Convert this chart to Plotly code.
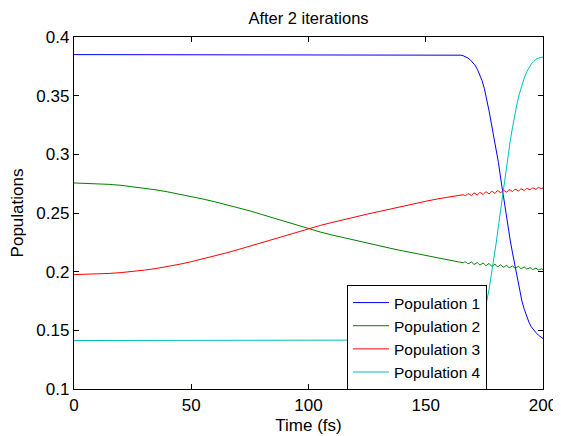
import numpy as np
import plotly.graph_objects as go

# ---- data ----
time_main = list(range(0, 160, 5))                       # 0..155 fs
time_fine = [160 + 0.5 * i for i in range(81)]           # 160..200 fs
time_bc = [0, 160, 162, 164] + list(range(165, 201))    # grid for pops 1 & 4

pop1 = [0.385, 0.385, 0.385, 0.3848, 0.3845, 0.384, 0.3832, 0.382, 0.3805, 0.3785,
        0.376, 0.3725, 0.368, 0.363, 0.356, 0.347, 0.337, 0.326, 0.316, 0.306,
        0.293, 0.279, 0.265, 0.251, 0.239, 0.227, 0.216, 0.205, 0.194, 0.184,
        0.175, 0.168, 0.162, 0.157, 0.153, 0.150, 0.148, 0.146, 0.1445, 0.143]

pop4 = [0.1413, 0.1413, 0.1413, 0.1413, 0.1413, 0.1414, 0.1416, 0.1418, 0.1425, 0.1435,
        0.145, 0.148, 0.152, 0.158, 0.166, 0.175, 0.185, 0.197, 0.210, 0.224,
        0.239, 0.254, 0.269, 0.284, 0.298, 0.311, 0.323, 0.334, 0.344, 0.352,
        0.359, 0.365, 0.370, 0.374, 0.377, 0.379, 0.381, 0.382, 0.3825, 0.383]

pop3_main = [0.1975, 0.1977, 0.1980, 0.1985, 0.1992, 0.2001, 0.2013, 0.2027, 0.2044, 0.2063,
             0.2085, 0.2108, 0.2133, 0.2160, 0.2188, 0.2217, 0.2247, 0.2278, 0.2309, 0.2339,
             0.2367, 0.2394, 0.2419, 0.2444, 0.2467, 0.2490, 0.2512, 0.2535, 0.2557, 0.2579,
             0.2600, 0.2620]
pop3_fine = [0.2637, 0.2639, 0.2641, 0.2643, 0.2645, 0.2646, 0.2647, 0.2648, 0.2649, 0.2650,
             0.2651, 0.2657, 0.2656, 0.2650, 0.2649,
             0.2655, 0.2665, 0.2662, 0.2651, 0.2648,
             0.2659, 0.2670, 0.2667, 0.2656, 0.2653,
             0.2664, 0.2675, 0.2672, 0.2660, 0.2657,
             0.2668, 0.2680, 0.2677, 0.2665, 0.2662,
             0.2673, 0.2685, 0.2682, 0.2670, 0.2667,
             0.2678, 0.2690, 0.2687, 0.2675, 0.2672,
             0.2683, 0.2694, 0.2691, 0.2680, 0.2677,
             0.2688, 0.2699, 0.2696, 0.2685, 0.2682,
             0.2692, 0.2703, 0.2700, 0.2689, 0.2686,
             0.2696, 0.2705, 0.2703, 0.2694, 0.2692,
             0.2700, 0.2709, 0.2707, 0.2699, 0.2697,
             0.2705, 0.2713, 0.2711, 0.2703, 0.2701,
             0.2710, 0.2717, 0.2715, 0.2709, 0.2707,
             0.2716]

pop2_main = [0.2756, 0.2754, 0.2750, 0.2744, 0.2736, 0.2725, 0.2712, 0.2697, 0.2680, 0.2661,
             0.2641, 0.2619, 0.2596, 0.2572, 0.2546, 0.2518, 0.2488, 0.2457, 0.2426, 0.2395,
             0.2365, 0.2338, 0.2313, 0.2289, 0.2266, 0.2243, 0.2221, 0.2199, 0.2178, 0.2157,
             0.2137, 0.2115]
pop2_fine = [0.2095, 0.2093, 0.2091, 0.2089, 0.2087, 0.2086, 0.2085, 0.2084, 0.2083, 0.2082,
             0.2081, 0.2075, 0.2076, 0.2082, 0.2083,
             0.2077, 0.2067, 0.2070, 0.2081, 0.2084,
             0.2073, 0.2062, 0.2065, 0.2076, 0.2079,
             0.2068, 0.2057, 0.2060, 0.2072, 0.2075,
             0.2064, 0.2052, 0.2055, 0.2067, 0.2070,
             0.2059, 0.2047, 0.2050, 0.2062, 0.2065,
             0.2054, 0.2042, 0.2045, 0.2057, 0.2060,
             0.2049, 0.2038, 0.2041, 0.2052, 0.2055,
             0.2044, 0.2033, 0.2036, 0.2047, 0.2050,
             0.2040, 0.2029, 0.2032, 0.2043, 0.2046,
             0.2036, 0.2027, 0.2029, 0.2038, 0.2040,
             0.2032, 0.2023, 0.2025, 0.2033, 0.2035,
             0.2027, 0.2019, 0.2021, 0.2029, 0.2031,
             0.2022, 0.2015, 0.2017, 0.2023, 0.2025,
             0.2016]

series_names = ["Population 1", "Population 2", "Population 3", "Population 4"]
x_ticks = [0, 50, 100, 150, 200]
y_ticks = [0.1, 0.15, 0.2, 0.25, 0.3, 0.35, 0.4]
y_tick_text = ["0.1", "0.15", "0.2", "0.25", "0.3", "0.35", "0.4"]

colors = ["#0000FF", "#008000", "#FF0000", "#00BFBF"]
FONT = "Liberation Sans, Arial, Helvetica, sans-serif"
FS = 17

# page body has an 8px margin: figure drawn at (8, 8)
W, H = 553, 428
PL, PR, PT, PB = 74 - 8, 543 - 8, 37 - 8, 389 - 8   # plot-area edges inside figure

fig = go.Figure()
fig.add_trace(go.Scatter(x=time_bc, y=pop1, mode="lines", name=series_names[0],
                         line=dict(color=colors[0], width=1)))
fig.add_trace(go.Scatter(x=time_main + time_fine, y=pop2_main + pop2_fine, mode="lines",
                         name=series_names[1], line=dict(color=colors[1], width=1)))
fig.add_trace(go.Scatter(x=time_main + time_fine, y=pop3_main + pop3_fine, mode="lines",
                         name=series_names[2], line=dict(color=colors[2], width=1)))
fig.add_trace(go.Scatter(x=time_bc, y=pop4, mode="lines", name=series_names[3],
                         line=dict(color=colors[3], width=1)))

axis_common = dict(showline=True, linecolor="black", linewidth=1.3, mirror="ticks",
                   ticks="inside", ticklen=5, tickcolor="black", tickwidth=1,
                   showgrid=False, zeroline=False, automargin=False,
                   tickfont=dict(family=FONT, size=FS, color="black"))

fig.update_layout(
    width=W, height=H,
    margin=dict(l=PL, r=W - PR, t=PT, b=H - PB),
    paper_bgcolor="white", plot_bgcolor="white",
    font=dict(family=FONT, size=FS, color="black"),
    title=dict(text="After 2 iterations", x=0.5, xref="paper", xanchor="center",
               y=1 - (18 - 8) / H, yref="container", yanchor="middle",
               font=dict(family=FONT, size=16.5, color="black")),
    xaxis=dict(range=[0, 200], tickvals=x_ticks, ticktext=[str(v) for v in x_ticks],
               title=dict(text="Time (fs)", font=dict(family=FONT, size=FS), standoff=5),
               **axis_common),
    yaxis=dict(range=[0.1, 0.4], tickvals=y_ticks, ticktext=y_tick_text,
               title=dict(text="Populations", font=dict(family=FONT, size=FS), standoff=9),
               **axis_common),
    legend=dict(x=(347 - 74) / 469, y=(389 - 285) / 352, xanchor="left", yanchor="top",
                bordercolor="black", borderwidth=1, bgcolor="white",
                font=dict(family=FONT, size=15.5, color="black"),
                tracegroupgap=0, itemwidth=36,
                entrywidth=155, entrywidthmode="pixels"),
    showlegend=True,
)

fig.write_html("out.html")
